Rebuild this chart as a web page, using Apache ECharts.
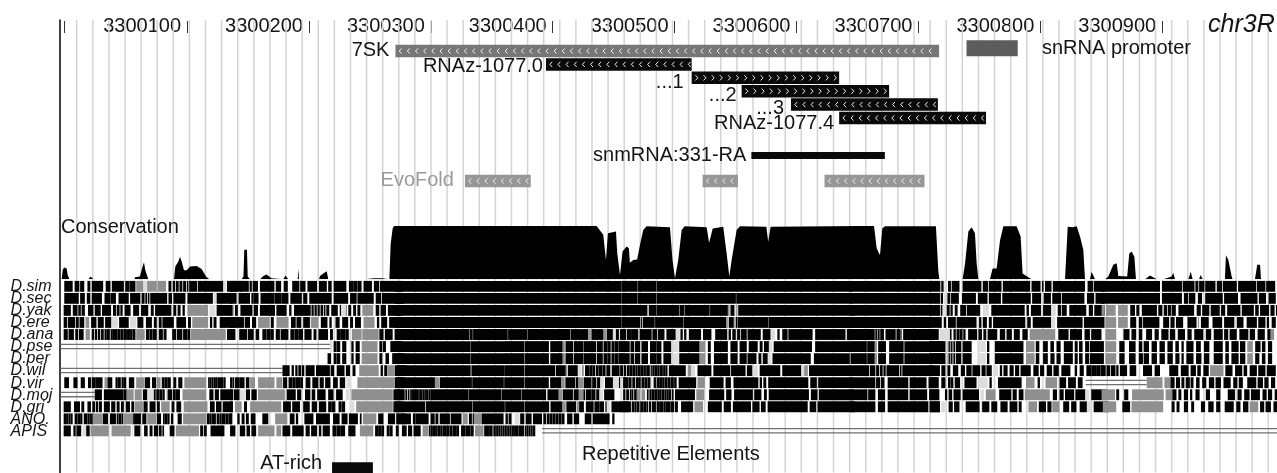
<!DOCTYPE html>
<html><head><meta charset="utf-8">
<style>html,body{margin:0;padding:0;background:#fff}#c{width:1277px;height:473px}</style>
<script src="https://cdn.jsdelivr.net/npm/echarts@6/dist/echarts.min.js"></script>
</head><body><div id="c"></div>
<script>
// genome window
const windowStart = 3299996.3;
const windowEnd = 3300994.2;
const tickLabels = [3300100,3300200,3300300,3300400,3300500,3300600,3300700,3300800,3300900];
const extraTicks = [3299999];
// ruler lines behind the tracks, counted in ruler steps of 13.214 bp
const rulerSteps = [1,2,3,4,5,6,7,8,9,10,11,12,13,14,15,16,17,18,19,20,21,22,23,24,25,26,27,28,29,30,31,32,33,34,35,36,37,38,39,40,41,42,43,44,45,46,47,48,49,50,51,52,53,54,55,56,57,58,59,60,61,62,63,64,65,66,67,68,69,70,71,72,73,74,75];

// annotation tracks
const trackNames  = ['7SK','RNAz-1077.0','...1','...2','...3','RNAz-1077.4','snmRNA:331-RA','EvoFold','','','snRNA promoter','AT-rich'];
const trackStarts = [3300271,3300394.5,3300514,3300555,3300595.5,3300635,3300563,3300328,3300523,3300623,3300739.5,3300219];
const trackEnds   = [3300717,3300514,3300635,3300676,3300716,3300755.5,3300672.5,3300382,3300552,3300705,3300781.5,3300252.5];
const trackRows   = [0,1,2,3,4,5,7.8,9.7,9.7,9.7,-0.2,31.1];
const trackStrand = ['<','<','>','>','<','<','','<','<','<','',''];

// conservation profile (bp from window start, score)
const consPos = [0.9,1.7,2.8,5,5.8,7.2,22.8,24.7,26.9,40,40.8,41.6,53,53.8,54.6,60.5,61,65,67.3,68.4,69.5,71.2,72,86,87,88,93,94.1,96.6,98,99.3,101.2,103.4,106.2,111.6,115.7,119.3,122,136.5,137.6,138.7,148.5,150,150.7,152.9,153.5,155.4,163.6,166.3,169,173,174.5,182.7,184.4,186.8,194.5,195,195.6,212,212.8,215.5,218.3,219.6,226.8,227.8,228.8,250,251,256.6,263.4,264.5,269.7,270.8,272.4,273.5,303,439.7,445.2,447.4,449,455.6,456.7,458.9,461,464.3,466.2,467,469.8,473,475.3,478,480.7,499.9,502,504,506.7,509.5,512,530,532,535,543.6,546.4,548.6,550.5,554.6,557.3,579,580.5,582.5,655.7,667.3,669.5,672.2,674.1,676.3,718.1,720,720.9,740,742,744.7,747.4,750.1,751.5,752.9,762.4,764.6,767.9,770.7,773.4,784.3,787.6,789.2,793.9,796.6,824,825,826.2,827.5,830.3,833.6,836.3,839,840.4,844.5,845.8,847.2,848.6,856.8,859.5,863.6,866.4,867.7,875,876.7,878.7,880.9,882.2,889.6,893.7,899.2,904.6,911.5,912.8,914.2,925.2,927.1,928.7,934,935.2,937,944,945,946,955.2,956,958,960.7,961.5,966.5,967.5,968.5,979.8,981.7,984,984.8];
const consVal = [0,17,22,20,8,0,0,5,0,0,2,0,0,2,0,0,4,5,24,32,17,5,0,0,2,0,0,24,33,42,33,17,17,24,25,19,5,0,0,2,0,0,5,55,55,5,0,0,6,9,2,0,0,7,0,0,20,0,0,6,11,15,0,0,2,0,0,2,2,2,0,0,67,95,99.5,99.5,99.5,83,36,86,89,48,8,52,61,58,31,36,37,64,92,99,97,36,2,36,92,99,97,68,95,98,48,5,36,92,99,98,70,98,99.5,99.5,58,45,95,99,99,17,0,0,30,89,97,86,30,0,0,20,20,73,99,99,80,11,4,0,0,2,98,99,97,99,80,55,0,0,14,17,0,0,5,27,30,6,5,48,52,42,0,0,7,0,0,5,12,0,0,14,0,0,8,0,0,2,0,0,45,36,5,0,0,2,0,0,27,27,0];

// multiple alignment rows: run lengths in bp. plain = aligned block, -n = gap,
// g = gray block, l = pale block, d = double line, @n = jump to bp n
const speciesNames = ['D.sim','D.sec','D.yak','D.ere','D.ana','D.pse','D.per','D.wil','D.vir','D.moj','D.gri','ANO.','APIS'];
const D_sim = "@3 6.5,-2,3.5,-1,3,-3,2,-1.5,9,-2.5,3.5,-1.5,9.5,-1.5,3,-.5,4.5,-1,g6,l3,g8,l.5,g7,-2,2,-1.5,1.5,-1,2,-1,2,-1,2,-1,1,-1,6,-1,20.5,-1,l2,-.5,11.5 @139 5,-3,7,-1,1.5,-1,4,-2,11.5,-1.5,4,-2.5,3,-4,5.5,-1,4,-2,7.5,-2,6,-1.5,2.5,-2,10,-2.5,3,-.5,3,-.5,3,-2,6.5,-2,4,-1,18 @274 185.5,-1 @460 13,-.7,14.7,-.7,160 @648 65.5 @713 8,-.5,g1,1.5,-1,l2,-1,2,-1,6,-3,15,-1.5,4,-1,10,-1.5,22,-1.5,7,-1.5,1,-1.5,5,-1.5,26,-2.5,4,-1,9 @854 47.5,-2,16,-1,9.5,g1,2,-1,4,-1,8,-1.5,4,-1,11,-1.5,14.5,-1,6.5,-1,7";
const D_sec = "@3 11.5,-1.5,3.5,-2,2.5,-1.5,8,-2.5,4.5,-.5,4,-2.5,8,-1.5,8,-1.5,2,-1,1,-1,1,-1,13.5,-1.5,2.5,-1.5,9.5,-2,20.5,-1,l2,-.5,12 @139 5,-2,9,-1.5,1.5,-.5,3.5,-2,11,-.5,5,-.5,5.5,-2,9,-1.5,3,-2,18,-2,11.5,-2,5,-1,13,-2,4,-1,18 @274 185.5,-1 @460 13,-.7,14.7,-.7,64.5,-.7,95 @648 65.5 @713 8,-1,1.5,-1,l2,-1,2,-1,6,-3,11,-2,7.5,-1.5,9.5,-1.5,23,-1.5,7,-2.5,5.5,-1.5,7,-1,18,-2.5,5.5,-1.5,7 @854 47.5,-2,16,-2,3,-1,5,-2.5,3,-3,14,-1.5,11,-2.5,13.5,-1.5,5.5,-2.5,5.5";
const D_yak = "@2.5 5.5,-2,3.5,-1,2,g1,2,-3,4,-1.5,4.5,-1.5,7,-2,2,-1,2,-1,1.5,-2,4.5,-2.5,4.5,-2,5.5,-2.5,2,-1.5,13,-2,2,-1.5,2,-2,1.5,-2.5,g17,-1,l5,-1,11.5 @139 2,g1,-1,2,-2.5,9.5,-1.5,3,-2,12,-1.5,8,-2.5,1.5,-2.5,13.5,g1,1.5,g1,1.5,g1,1.5,g1,1.5,-1,1,g1,2,-2,5,-2,1,l4,g1,-1,2,-2,2,-1.5,2,-2,g9,-2,2.5,-1.5,4,-2,11.5 @274 185.5,-1 @460 21,-1.5,6,-.7,18,-.7,3.5,-.7,20,-.7,14.5,g1.5,-.7,3,g1,-.7,g1,-.7,95 @648 65.5 @713 8,-1,1,-1,l2,-1,2,-1,1.5,-2,2,-2.5,4.5,-1,10.5,-2.5,l5,-2,27,-2,1.5,-2,8,-2,6.5,l4,-1.5,2.5,-1,3.5,-2.5,13.5,-2.5,3,-1.5,8 @854 g2,-1.5,g8,-2,g8,-2,3.5,-1.5,2,-2.5,12,-1.5,3,-1.5,2.5,-1,2,-1,3,-2.5,12.5,-2.5,3,-1.5,5.5,-1.5,7,-1.5,3,-2,10.5,-1.5,9.5,-1.5,2.5,-1.5,7,-1.5,3,-1.5,3";
const D_ere = "@2.5 2.5,-1,5.5,-1,2,-1,3.5,-1.5,g3,-1.5,4,-1.5,4.5,-1.5,5,l5.5,-1,7.5,-1.5,l5,-1,4.5,-2.5,4.5,-2,2,-2,2,-1,9,-2.5,7.5,-2,2,-1.5,g13,-1.5,1.5,-1.5,2,-3,12 @139 11,-1,4,-2,3,-2,g9.5,-1,2,-2.5,g10,-2,3.5,-1,3.5,-2,5.5,l1,g6,-2,5,-2,1.5,-3.5,3,-2.5,4.5,-2,2,-2,4.5,-2.5,g9,-2,1.5,-2,4.5,-2,11.5 @274 185.5,-1 @460 15,-1,.5,-1,9.5,-.7,23,-.7,34.5,g1.5,-.7,4,g1,-.7,1,-.7,24.5,-.7,70 @648 65.5 @713 9.5,-2,1.5,-2,6,-1,3.5,12.5,-2.5,1.5,-1.5,3,-2,2,-1.5,26,-2,2.5,-2,15,l3.5,-1.5,20.5,-1.5,16.5 @854 -3,g9,-1.5,g8,-2,4.5,-2.5,2.5,-1,13,-3.5,4.5,-1.5,3,-1.5,5.5,-4,7,-1.5,g1,-1.5,6,-3.5,7.5,-2,8,-2.5,5,-3,8,-1.5,5.5,-1.5,1.5,-2.5,3";
const D_ana = "@2.5 3,-1,4,-1.5,2,-1,3.5,-2,g3.5,-1.5,1.5,-1,1.5,-1,1.5,-1,2,-1,1.5,-.5,2,-1,1.5,-.5,3,-.5,2,-.5,2,-.5,2.5,-.5,2,-.5,1.5,-.5,2,-1,g7,-1,2.5,-.5,2,-.5,3,-2,3,-1,2,-1,-4,3,-1,4,-1,3,-.5,2,-1,g28.5,-1,5.5 @139 1.5,-1,1.5,-3.5,6,-1,4.5,-2,2.5,-3,3,-.5,3,-.5,2,-2,3,-1,6,-2,3,-.5,3,-.5,3,-1.5,5.5,-2,2,-2,7.5,-2,2,-3.5,3,-.5,3,-.5,2.5,-3,g8,-.5,g13.5,-.5,3,-1.5,6,-2.5,9.5 @274 61,-.7,2,-.7,28,-.7,15.5,-.7,34.5,-.7,14,-.5,g2,-.5,9.5,-.5,g2,-.5,5,l2,-.5,2.5,l1.5,3 @459 1.5,-1,2,-1,3,-.5,5.5,-1.5,9.5,-1,3.5,-1,5,-2,7.5,l3.5,-.5,1.5,-1.5,1.5,-2.5,9.5,-2,6.5,-3.5,9.5,-1.5,1.5,-1.5,2.5,-1.5,2,-1,4.5,-1,10.5,-2,6,-1,l3,-2,1.5,-2.5,4,-1,19.5,-2.5,24.5,-1.5,30 @648 13.5,-.7,5.5,g1,1,g1,1,g1,2,-2,8,-1,3,g.5,.5,g.5,-1,26 @713 7,-1,l8,-.5,1,-2,1.5,-1,2,-.5,2,-1,1.5,-2.5,7,-1.5,2.5,-1.5,2,-1.5,7.5,-2.5,4,-1.5,4,-2,4.5,-2.5,4,-2,g21,-2.5,8,-1.5,9.5,-2.5,4,-1.5,8 @854 -3,g9,-6,4.5,-2,3.5,-2.5,2.5,-3.5,4.5,-2.5,3,-2.5,5.5,-1.5,4,-2.5,5.5,-2.5,3,-2.5,7,-2.5,4,-2.5,7,-1.5,3,-1.5,5.5,-2.5,7,-1.5,4,-2.5,5.5,-2.5,2.5,g3";
const D_pse = "@0 d221 l2,-1,2,-.5,2.5,-2,3,-.5,-4,1.5,-2,3,-2,g13,-1.5,2,-1,2,-4,9.5 @274 62,-.7,27.5,-.3,15.5,-.7,19.5,-1.5,10,g2,-.5,6,-1,7,-.7,10,-1,4.5,-1,3,-.5,2,-1,2,-.5,3,-.5,3 @459 7.5,-1,2.5,-1,4,-1.5,5,-2,5,-.5,3.5,-2,6,-1.5,l5,-.5,16.5,g5,-2,2,-3,11,-2.5,5.5,-2,5.5,-2,7,-2,2,-1.5,4,l3,-1,31,-3,29 @648 13,-.7,6,g2,-1,6,-3,11.5,-1,32 @713 12.5,-2,g1,1,g1,1,g1,1,-1,4,-1.5,7,-5,l7,-1,1.5,-5,23,-2.5,g7,-1,2.5,-3.5,3.5,-2.5,2.5,-2.5,3,-3,7,-2,2,-1.5,2.5,-2.5,3,-1,11 @854 -3,g9,-2.5,4,-4,5,-3,2.5,-1.5,4,-2.5,4,-2.5,4,-2.5,4,-2.5,2.5,-2.5,1.5,-2.5,5.5,-2.5,3.5,-3,4,-4,7,-2.5,2.5,-2.5,5.5,-1.5,4,-2,g4.5,-2,4,-1.5,2.5,-2.5,3";
const D_per = "@219 2.5,-2.5,2,-.5,2.5,-2,3,-.5,-4,1.5,-2,3,-2,g13,-1.5,2,-3,2.5,-3,9.5 @274 62,-.7,27.5,-.3,15.5,-.7,19.5,-1.5,10,g2,-.5,6,-1,7,-.7,10,-1,4.5,-1,3,-.5,2,-1,2,-.5,3,-.5,3 @459 7.5,-1,2.5,-1,4,-1.5,5,-2,5,-.5,3.5,-2,6,-1.5,l5,-.5,16.5,g5,-2,2,-3,11,-2.5,5.5,-2,5.5,-1,7,-2,2,-1.5,4,l3,-1,31,-3,29 @648 13,-.7,6,g2,-1,6,-3,11.5,-1,32 @713 12.5,-2,g1,1,g1,1,g1,1,-1,4,-1.5,7,-5,l7,-1,1.5,-5,23,-2.5,g7,-1,2.5,-3.5,3.5,-2.5,3,-2,3,-3,7,-2,2,-1.5,2.5,-2.5,3,-1,11 @854 -3,g9,-2.5,4,-4,5,-3,3,-1,4,-2.5,4,-2.5,4,-2.5,4,-2.5,3,-2,1.5,-2.5,5.5,-2.5,4,-2.5,4,-4,7,-2.5,2.5,-2.5,5.5,-1.5,4,-2,g4.5,-2,3,-2.5,2.5,-2.5,3";
const D_wil = "@0 d182 5.5,-2,1.5,-1.5,1.5,-1,2,-1,1.5,-1.5,7,-1.5,11,-1,2.5,-2.5,6,-1.5,3,-2.5,2,-3.5,g16,-1.5,1.5,-1.5,2,-.5,g5.5,-2,8 @274 62,-1,27,-.5,15.5,-.7,24.5,-1,8,g1.5,-.5,8,l2,l1,-.5,g1.5,-1,3,-.5,2,-.5,2,-1,1.5,-.5,3,-.5,2,-1,3,-.5,l1,6 @459 2,-1,1.5,-1,2,-.5,1.5,-.5,2,-.5,1.5,-.5,2,-.5,1.5,-.5,1,-.5,1,-.5,2,-1,1,g.5,1.5,-.5,2,-.5,1,-.5,1.5,-.5,1,-.5,1,-.5,1,-1.5,13.5,-2,g3,l3,-2,11,-2,13.5,-1,11.5,-1.5,4,-1,l4,-1.5,16.5,-2,15.5,l2.5,g3,-1,34 @648 15,-1,4,-1,2,-1,2,-1,1.5,-1,10,-1,1,-1,25 @713 8,-1.5,3,-2,2,-2.5,4,-2.5,3,-1.5,4,-1,6,-1.5,3,-1,4,-1.5,l4,-1.5,1.5,-1.5,3,-2,3,-1.5,3,-1.5,8,-2.5,4,-1.5,3,-2.5,4,-1.5,4,-2.5,7,-4,1.5,-2.5,3,-2.5,4,-.5,3,-.5,3,-.5,4 @854 1.5,-2.5,2.5,-1,3.5,-1,1.5,-1.5,5.5,-2.5,5,-6,7,-2.5,4,-8,7,-2.5,6,-2,4,-1.5,2.5,-2.5,4,-1.5,g11,-1.5,5.5,-2.5,5.5,-1.5,2.5,-2.5,5.5,-1.5,5.5,-1.5,7";
const D_vir = "@3 3.5,-4,3,-3,3,-3,2,-1,3,-.5,5,-2,g2.5,3.5,-3,1.5,-.5,2,-1,1.5,-.5,1.5,-2.5,4,-2,g6.5,-.5,4,-2,3,-1,g3,-1,2,-.5,2,-.5,2,-2.5,2,-2,3,-2,g18,-1.5,1,-.5,1,-.5,1,-.5,1.5,-.5,1,-.5,4,-.5,1.5 @139 1.5,-.5,1,-1,3,-.5,4,-1.5,2.5,-1,g4,-2.5,g13.5,-1.5,g5,-.5,3,-1.5,3,-.5,2,-.5,3,-.5,2,-2.5,3.5,-2,4.5,-1.5,3,-1.5,4,-2.5,3.5,-2,4,-1.5,l4,-5,g30,-.5,7.5 @275 32,g3.5,-.5,26,-.7,25.5,-.7,16,-.7,19.5,-1.5,9,g3,-.5,7.5,-1,2,g4,-.5,6,-1,3,-1,2.5,l3,-1,6.5,l5,6 @459 l2.5,-.5,1,-1,1.5,-.5,2,-1,2,-1,2,-.5,1,-1,2,-.5,2,-.5,2,-1,l1,-1,1.5,-1,1.5,-.5,2,-.5,1.5,-.5,2,-.5,2,-.5,1.5,-.5,1,-.5,1,-2,14,-1.5,g6,-4,11,-2,4,-2.5,20,-1.5,1.5,-1.5,2,-2,32.5,-2,5,-1.5,28 @648 20,-1,3,-1,2.5,-3,16.5,-1.5,13.5,-2,7.5 @713 7,-2.5,3,-2.5,1.5,-.5,2,-1.5,4,-4,9.5,-2.5,l7,-1.5,1.5,-5.5,19,-4,g7,-2.5,1.5,-5,g9.5,-2,5,-2,6,-2,3.5,-2 @841 d50 @891 g13,-1.5,g5,1,2,-1.5,3,-1.5,2,-1.5,3,-1,2,-2.5,2.5,-2.5,3,-2.5,4,-1.5,4,-2.5,5.5,-2.5,3,-1.5,3,-4,7,-1.5,4,-1.5,3,-2.5,3";
const D_moj = "@0 d28 5.5,-2,15.5,-.5,2.5,g6,l1,g5.5,-1,3.5,l5.5,1.5,l.5,2,-.5,2,-.5,1.5,-2,g1,3,-1,1.5,-.5,3.5,-2.5,g19.5,-2.5,3,-1.5,3,-1.5,9.5 @139 2,-1,4.5,-.5,l4,-1,3,-1.5,4,-1.5,g22,-1.5,7,-1.5,3,-3.5,4,-1.5,2.5,-2,6.5,-2.5,4,-2.5,5,-3,l3,-1.5,g34,-.5,5,-1,2.5 @274.3 5.5,-1,1,-1,1,-1,1,-1,1,-.5,4.5,-.5,1,-.5,1.5,-.5,1,-.5,1,-.5,1.5,-.5,1,-.5,31,-.7,26,-.7,16,-.7,19.5,-1.5,9,g3,-.5,8,-1,4,g4,1,-1,4,-.5,3,-1,2.5,l3,-1,8 @459 l2,-.5,1.5,-1,2,-1,1,-.5,1,-1,2,g3,-1,g3,-1.5,1,-1,1.5,-.5,1.5,-.5,2,-.5,1,-.5,1.5,-.5,2,-.5,1,-.5,1.5,-.5,1.5,-1,1,-1.5,16,-1.5,g6.5,-4,12,-2,4,-2.5,15,-1.5,5.5,-2.5,2,-2,32.5,-2,5,-1.5,28 @648 13.5,-1,5.5,-2.5,5.5,-2.5,16.5,-1.5,14,-2,8 @713 7,-5.5,1.5,-1.5,2.5,-1.5,5.5,-2,13,-1.5,l3,-1.5,g8,-3,9.5,-1.5,3,-2,3.5,-1.5,g20.5,-2.5,3,-2.5,3,-1.5,7,-1.5,8,l3.5,-1.5,12 @854 g11,-1,2,-4.5,3,-3.5,g26,-1.5,g5.5,1,2,-2,2,-2.5,3,-2,1.5,-3,3,-5.5,3,-5.5,3,-6.5,5.5,-2.5,3,-2.5,4,-1.5,7,-2.5,3,-1.5,3,-2.5,3";
const D_gri = "@2.5 5.5,-3,4.5,-1.5,2,-3,2.5,-1.5,2,-1,1.5,-1,2,-2,4.5,-1.5,3,-1.5,2,-1.5,2,-2,3,-1.5,2,-1,g6.5,-.5,3,-2,4.5,-1.5,2,-1.5,g7,-1.5,2,-2,3.5,-2.5,g19.5,-2,3.5,-1.5,4,-1.5,8 @139 2,-2,g5.5,-2,2,-3,g25.5,-1.5,6,-1.5,6,-3,5,-2,4,-2,5.5,-2,2,-.5,3,-3,2,-.5,2.5,-4,l4,-1.5,g30,-.5,7.5 @274.3 24.5,-1,37.5,-.7,26,-.7,15.5,-.7,19.5,-1.5,9.5,g3,-.5,7.5,-1,g2,3.5,-2,6,-1,3.5,-.5,3.5,-1.5,1,l3,-1,14 @459 1.5,-1,3.5,-1,1.5,-1,2,-.5,1,-.5,2,-1,2,-.5,2,-.5,1,-1,1.5,-1,3,-1,1.5,-.5,3,-.5,1,-.5,4,-.5,2.5,-1,2,-3,9.5,-1.5,g7,-4,11,-2,5.5,-2,14.5,-1.5,5.5,-1.5,3.5,-2,32.5,-2,5,-1.5,30 @648 20,-2.5,5.5,-2.5,33,-1.5,8 @713 8,-1.5,l3,-3,3,-1.5,4,-5.5,11,-1.5,l1,5.5,-2,4.5,-3,5.5,-2,6,-1.5,2,-6,g7,-1.5,5.5,-1.5,3,-1,g6,-3,4.5,-2,4,-3,5.5,-.5,l4.5,-1,12 @854 -1,g11,-5,6,-1.5,g26,-7,2,-2,2,-4,3,-3,2,-6,3,-3,4,-2.5,3,-4,7,-2.5,3,-2.5,4,-1.5,g7,-1.5,3,-1.5,4,-2.5,3";
const ANO = "@2.5 1.5,-.5,1.5,-.5,1,-.5,1.5,-2,2,-.5,1.5,-.5,1.5,-1.5,2.5,-.5,1,-.5,1,-.5,1,-.5,g7.5,-.5,4,-2,4.5,-1,1,-.5,2,-.5,1,-.5,g8,1,5,-1.5,3,-1,g7.5,-.5,3,-2,1,-.5,2,-.5,1,-1.5,1.5,-4,3,-1.5,g19,-.5,2,-.5,1,-.5,3,-1,2,-.5,1,-.5,3,-.5,2,-.5,2 @139 1.5,-4.5,1.5,-2,2,-1.5,2,-2,3.5,-6,4.5,-6,g10,-2,3.5,-1.5,1.5,-5.5,7,-2.5,11,-3,5,-2,4.5,-1.5,7,-2,1,-1.5,g11,-1.5,4,-4,5.5,-1.5,1.5,-2.5,3 @275.5 11.5,-2,1.5,-.5,10.5,-2,3,-1,2,-1.5,8,-1,8.5,-1.5,g4,-1,2,-1,1,g6.5,17.5,-2,1.5,-1,2,-3,l4,-.5,3,-1.5,4.5,-1.5,7,-1.5,2,-1,1.5,-.5,2,-.5,2,-.5,2,-.5,2,-.5,2,-2.5,4,-1.5,4,-5,5,-1.5,13.5,-2.5,1.5";
const APIS = "@2.5 5.5,-2.5,1.5,-1,3.5,-1.5,l3,2.5,-1,g15,-1.5,l1,g15.5,-1,l1,-1,4.5,-3.5,2.5,-2,2,-1.5,3,-1,2,-1,1,-5,3.5,-1.5,g19,-1,2,-1,2,-3.5,11 @139 4,-4,4,-1.5,2.5,-1.5,3.5,-2,g13.5,-1.5,g4,-1,6,-2,9,-2,3,-1.5,4.5,-2,1.5,-1.5,5.5,-2.5,3,-.5,3,-.5,3,-3,5.5,-4,g11,-1.5,2,-.5,2,-.5,2,-2.5,2,-.5,2,-4,l1.5,-1 @275 2,-3,3.5,-1.5,3,-1.5,5.5,-2,g4.5,-.5,1,-.5,1.5,-.5,2,-.5,1,-.5,2,-.5,1,-.5,3,-.5,1.5,-.5,2,-.5,2.5,-.5,2,-2,3,-.5,4,-.5,2,-1.5,g7,-.5,3.5,-.5,2.5,-1,1,-.5,1,-.5,1,-.5,1,-.5,1,-.5,1,-.5,1,-.5,1,-.5,1,-.5,1,-.5,1.5,-.5,3,-.5,4.5,-1,1,-.5,1,-.5,1,-.5,1,-.5,2 @395 d603";
const alignmentRows = [D_sim,D_sec,D_yak,D_ere,D_ana,D_pse,D_per,D_wil,D_vir,D_moj,D_gri,ANO,APIS];

// ---- build tables
const segKinds = {k:0,g:1,l:2,d:3};
function runsToSegments(text,row){
  const out=[]; let pos=0;
  text.split(/[\s,]+/).filter(Boolean).forEach(t=>{
    const c=t[0];
    if(c==='@'){pos=parseFloat(t.slice(1));return;}
    if(c==='-'){pos+=parseFloat(t.slice(1));return;}
    let kind='k', len;
    if(c==='g'||c==='l'||c==='d'){kind=c;len=parseFloat(t.slice(1));}
    else len=parseFloat(t);
    out.push([windowStart+pos,windowStart+pos+len,row,segKinds[kind]]);
    pos+=len;
  });
  return out;
}
const segments=[]; alignmentRows.forEach((r,i)=>segments.push(...runsToSegments(r,i)));
const consData = consPos.map((p,i)=>[windowStart+p,consVal[i]]);
const trackData = trackNames.map((n,i)=>[trackStarts[i],trackEnds[i],trackRows[i],i]);
const rulerData = rulerSteps.map(s=>[windowStart+13.21*s,-2.32,31.46]);

const FONT='"Liberation Sans"';
const trackColor = i=> i===0?'#777777': (i>=7&&i<=9)?'#979797': i===10?'#5c5c5c':'#0a0a0a';
const barHeight = i=> i===6?7 : i===10?16 : i===11?11 : 12.5;
const labelDx = [6,3,8,5,7,5,5,11,0,0,0,10];
const labelDy = [-1,2,5,4,3.5,5,0,0,0,0,0,-4];
const chevPitch = 8.15;

function renderTrack(params,api){
  const i=api.value(3);
  const a=api.coord([api.value(0),api.value(2)]);
  const b=api.coord([api.value(1),api.value(2)]);
  const h=barHeight(i), y=a[1];
  const kids=[{type:'rect',shape:{x:a[0],y:y-h/2,width:b[0]-a[0],height:h},style:{fill:trackColor(i)}}];
  const dir=trackStrand[i];
  if(dir){
    const w=dir==='<'?-2.4:2.4;
    for(let x=a[0]+5;x<b[0]-1.5;x+=chevPitch){
      kids.push({type:'polyline',shape:{points:[[x-w/2,y-2.6],[x+w/2,y],[x-w/2,y+2.6]]},style:{fill:null,stroke:'#f2f2f2',lineWidth:1}});
    }
  }
  const name=trackNames[i];
  if(name&&i!==10){
    kids.push({type:'text',style:{text:name,x:a[0]-labelDx[i],y:y+labelDy[i],align:'right',verticalAlign:'middle',
      fill:i===7?'#9a9a9a':'#141414',font:'20px '+FONT}});
  }
  return {type:'group',children:kids};
}
function renderSegment(params,api){
  const a=api.coord([api.value(0),api.value(2)]);
  const b=api.coord([api.value(1),api.value(2)]);
  const kind=api.value(3), band=api.size([0,1])[1], top=a[1]-band/2;
  if(kind===3){
    return {type:'group',children:[2.7,7].map(o=>({type:'rect',shape:{x:a[0],y:top+o,width:b[0]-a[0],height:1.3},style:{fill:'#707070'}}))};
  }
  return {type:'rect',shape:{x:a[0],y:top+0.2,width:b[0]-a[0]+(kind===0?0.5:0),height:band-1.2},
    style:{fill:['#020202','#8f8f8f','#dcdcdc'][kind]}};
}
function renderRuler(params,api){
  const t=api.coord([api.value(0),api.value(1)]), b=api.coord([api.value(0),api.value(2)]);
  return {type:'rect',shape:{x:t[0]-0.75,y:t[1],width:1.5,height:b[1]-t[1]},style:{fill:'#d4d4d4'}};
}

const chart=echarts.init(document.getElementById('c'),null,{renderer:'canvas'});
const L=60.6,W=1216.4;
const genomeAxis=(g,extra)=>Object.assign({type:'value',gridIndex:g,min:windowStart,max:windowEnd,show:false},extra||{});
chart.setOption({
  animation:false,
  backgroundColor:'#fff',
  grid:[
    {left:L,width:W,top:20,height:453},
    {left:L,width:W,top:33,height:165.4},
    {left:L,width:W,top:225.7,height:53.6},
    {left:L,width:W,top:280.7,height:156.6}
  ],
  xAxis:[
    {type:'value',gridIndex:0,min:0,max:1,show:false},
    {type:'value',gridIndex:1,min:windowStart,max:windowEnd,position:'top',
      axisLine:{show:false,onZero:false},splitLine:{show:false},
      axisTick:{show:true,inside:false,length:12,customValues:tickLabels.concat(extraTicks),lineStyle:{color:'#333',width:1}},
      axisLabel:{show:true,customValues:tickLabels,margin:-3,align:'right',padding:[0,6,0,0],color:'#141414',
        fontFamily:FONT,fontSize:20,formatter:v=>String(Math.round(v)),hideOverlap:false,showMinLabel:true,showMaxLabel:true}},
    genomeAxis(2),
    genomeAxis(3)
  ],
  yAxis:[
    {type:'value',gridIndex:0,min:0,max:1,offset:1,axisLine:{show:true,onZero:false,lineStyle:{color:'#000',width:1.5}},
      axisTick:{show:false},axisLabel:{show:false},splitLine:{show:false}},
    {type:'value',gridIndex:1,inverse:true,min:-1.343,max:11,show:false},
    {type:'value',gridIndex:2,min:0,max:100,show:false},
    {type:'category',gridIndex:3,inverse:true,data:speciesNames,
      axisLine:{show:false},axisTick:{show:false},splitLine:{show:false},
      axisLabel:{show:true,interval:0,margin:50,align:'left',fontFamily:FONT,fontStyle:'italic',fontSize:16,color:'#141414',lineHeight:12}}
  ],
  series:[
    {type:'custom',name:'ruler',xAxisIndex:1,yAxisIndex:1,coordinateSystem:'cartesian2d',clip:false,silent:true,z:1,
      dimensions:['pos','from','to'],encode:{x:0,y:[1,2]},renderItem:renderRuler,data:rulerData},
    {type:'custom',name:'annotations',xAxisIndex:1,yAxisIndex:1,coordinateSystem:'cartesian2d',clip:false,silent:true,z:3,
      dimensions:['start','end','row','index'],encode:{x:[0,1],y:2},renderItem:renderTrack,data:trackData},
    {type:'line',name:'Conservation',xAxisIndex:2,yAxisIndex:2,showSymbol:false,symbol:'none',silent:true,z:3,
      lineStyle:{width:0},areaStyle:{color:'#000',opacity:1},data:consData},
    {type:'custom',name:'alignment',xAxisIndex:3,yAxisIndex:3,coordinateSystem:'cartesian2d',silent:true,z:3,
      dimensions:['start','end','row','kind'],encode:{x:[0,1],y:2},renderItem:renderSegment,data:segments}
  ],
  graphic:[
    {type:'text',left:1042,top:38,z:5,style:{text:'snRNA promoter',font:'20px '+FONT,fill:'#141414'}},
    {type:'text',left:1208,top:13,z:5,style:{text:'chr3R',font:'italic 25px '+FONT,fill:'#141414'}},
    {type:'text',left:61,top:217,z:5,style:{text:'Conservation',font:'20px '+FONT,fill:'#141414'}},
    {type:'text',left:582,top:444,z:5,style:{text:'Repetitive Elements',font:'20px '+FONT,fill:'#141414'}}
  ]
});
</script></body></html>
